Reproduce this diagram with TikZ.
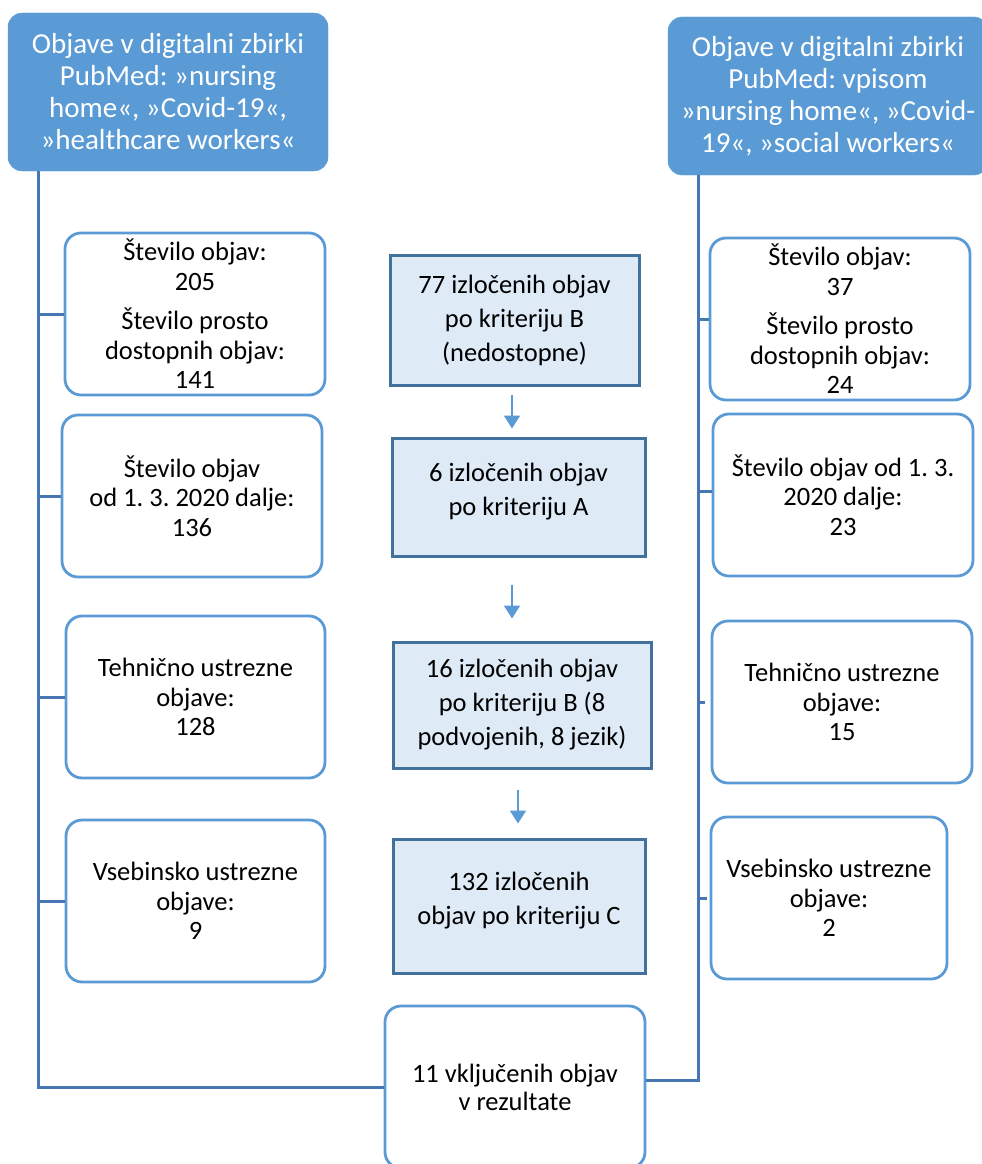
\documentclass[tikz,border=0pt]{standalone}
\usepackage{fontspec}
\setmainfont{Carlito}
\frenchspacing
\usetikzlibrary{arrows.meta,calc}
\definecolor{hdrblue}{HTML}{5B9BD5}
\definecolor{lblue}{HTML}{5B9BD5}
\definecolor{mfill}{HTML}{DEEBF7}
\definecolor{mborder}{HTML}{41719C}
\definecolor{connblue}{HTML}{4677B3}
\tikzset{
  hdr/.style={fill=hdrblue, draw=hdrblue, rounded corners=14pt, text=white, align=center,
    inner sep=0pt, minimum width=320pt, minimum height=158pt, font=\fontsize{29}{32}\selectfont},
  sbox/.style={draw=lblue, line width=2.8pt, rounded corners=16pt, fill=white, align=center,
    inner sep=0pt, minimum height=162pt, font=\fontsize{26.5}{29.5}\selectfont},
  mbox/.style={draw=mborder, fill=mfill, line width=3pt, align=center, inner sep=0pt,
    font=\fontsize{26.5}{34}\selectfont},
  conn/.style={draw=connblue, line width=3pt},
  arr/.style={draw=lblue, line width=2pt, -{Triangle[width=16pt,length=13pt]}, fill=lblue},
}
\begin{document}
\begin{tikzpicture}[x=1pt,y=-1pt]
\clip (0,0) rectangle (982,1164);
\fill[white] (0,0) rectangle (982,1164);
% headers
\node[hdr] (hdrL) at (168,92) {Objave v digitalni zbirki\\PubMed: »nursing\\home«, »Covid-19«,\\»healthcare workers«};
\node[hdr] (hdrR) at (828,96) {Objave v digitalni zbirki\\PubMed: vpisom\\»nursing home«, »Covid-\\19«, »social workers«};
% left boxes
\node[sbox, minimum width=260pt] (L1) at (195,314) {Število objav:\\205\\[10pt]Število prosto\\dostopnih objav:\\141};
\node[sbox, minimum width=260pt] (L2) at (192,496) {Število objav\\od 1. 3. 2020 dalje:\\136};
\node[sbox, minimum width=259pt] (L3) at (195.5,697) {Tehnično ustrezne\\objave:\\128};
\node[sbox, minimum width=259pt] (L4) at (195.5,901) {Vsebinsko ustrezne\\objave:\\9};
% right boxes
\node[sbox, minimum width=260pt] (R1) at (840,319) {Število objav:\\37\\[10pt]Število prosto\\dostopnih objav:\\24};
\node[sbox, minimum width=260pt] (R2) at (843,495) {Število objav od 1. 3.\\2020 dalje:\\23};
\node[sbox, minimum width=260pt] (R3) at (842,702) {Tehnično ustrezne\\objave:\\15};
\node[sbox, minimum width=236pt] (R4) at (829,898) {Vsebinsko ustrezne\\objave:\\2};
% middle boxes
\node[mbox, minimum width=249pt, minimum height=130pt] (M1) at (514.5,320) {77 izločenih objav\\po kriteriju B\\(nedostopne)};
\node[mbox, minimum width=253pt, minimum height=118pt] (M2) at (518.5,497) {6 izločenih objav\\po kriteriju A\\[-18pt]};
\node[mbox, minimum width=258pt, minimum height=126pt] (M3) at (522,705) {16 izločenih objav\\po kriteriju B (8\\podvojenih, 8 jezik)};
\node[mbox, minimum width=252pt, minimum height=134pt] (M4) at (519,906) {132 izločenih\\objav po kriteriju C\\[-18pt]};
% bottom box
\node[sbox, minimum width=260pt, font=\fontsize{26.5}{28}\selectfont] (B) at (515,1087) {11 vključenih objav\\v rezultate};
% trunks
\coordinate (tL) at ([xshift=31pt]hdrL.south west);
\coordinate (tR) at ([xshift=31pt]hdrR.south west);
\draw[conn] (tL) |- (B.west);
\draw[conn] ([yshift=7pt]B.east) -| (tR);
% branches
\draw[conn] (L1.west -| tL) -- (L1.west);
\draw[conn] (L2.west -| tL) -- (L2.west);
\draw[conn] (L3.west -| tL) -- (L3.west);
\draw[conn] (L4.west -| tL) -- (L4.west);
\draw[conn] (R1.west -| tR) -- (R1.west);
\draw[conn] ([yshift=4pt]R2.west -| tR) -- ([yshift=4pt]R2.west);
\draw[conn] (R3.west -| tR) -- ++(6,0);
\draw[conn] (R4.west -| tR) -- ++(8,0);
% arrows
\coordinate (a1) at ([xshift=-2.5pt,yshift=-8pt]M1.south);
\draw[arr, shorten >=8pt] (a1) -- (a1 |- M2.north);
\coordinate (a2) at ([xshift=-6.5pt,yshift=-27pt]M2.south);
\draw[arr, shorten >=22pt] (a2) -- (a2 |- M3.north);
\coordinate (a3) at ([xshift=-4pt,yshift=-20pt]M3.south);
\draw[arr, shorten >=14pt] (a3) -- (a3 |- M4.north);
\end{tikzpicture}
\end{document}
